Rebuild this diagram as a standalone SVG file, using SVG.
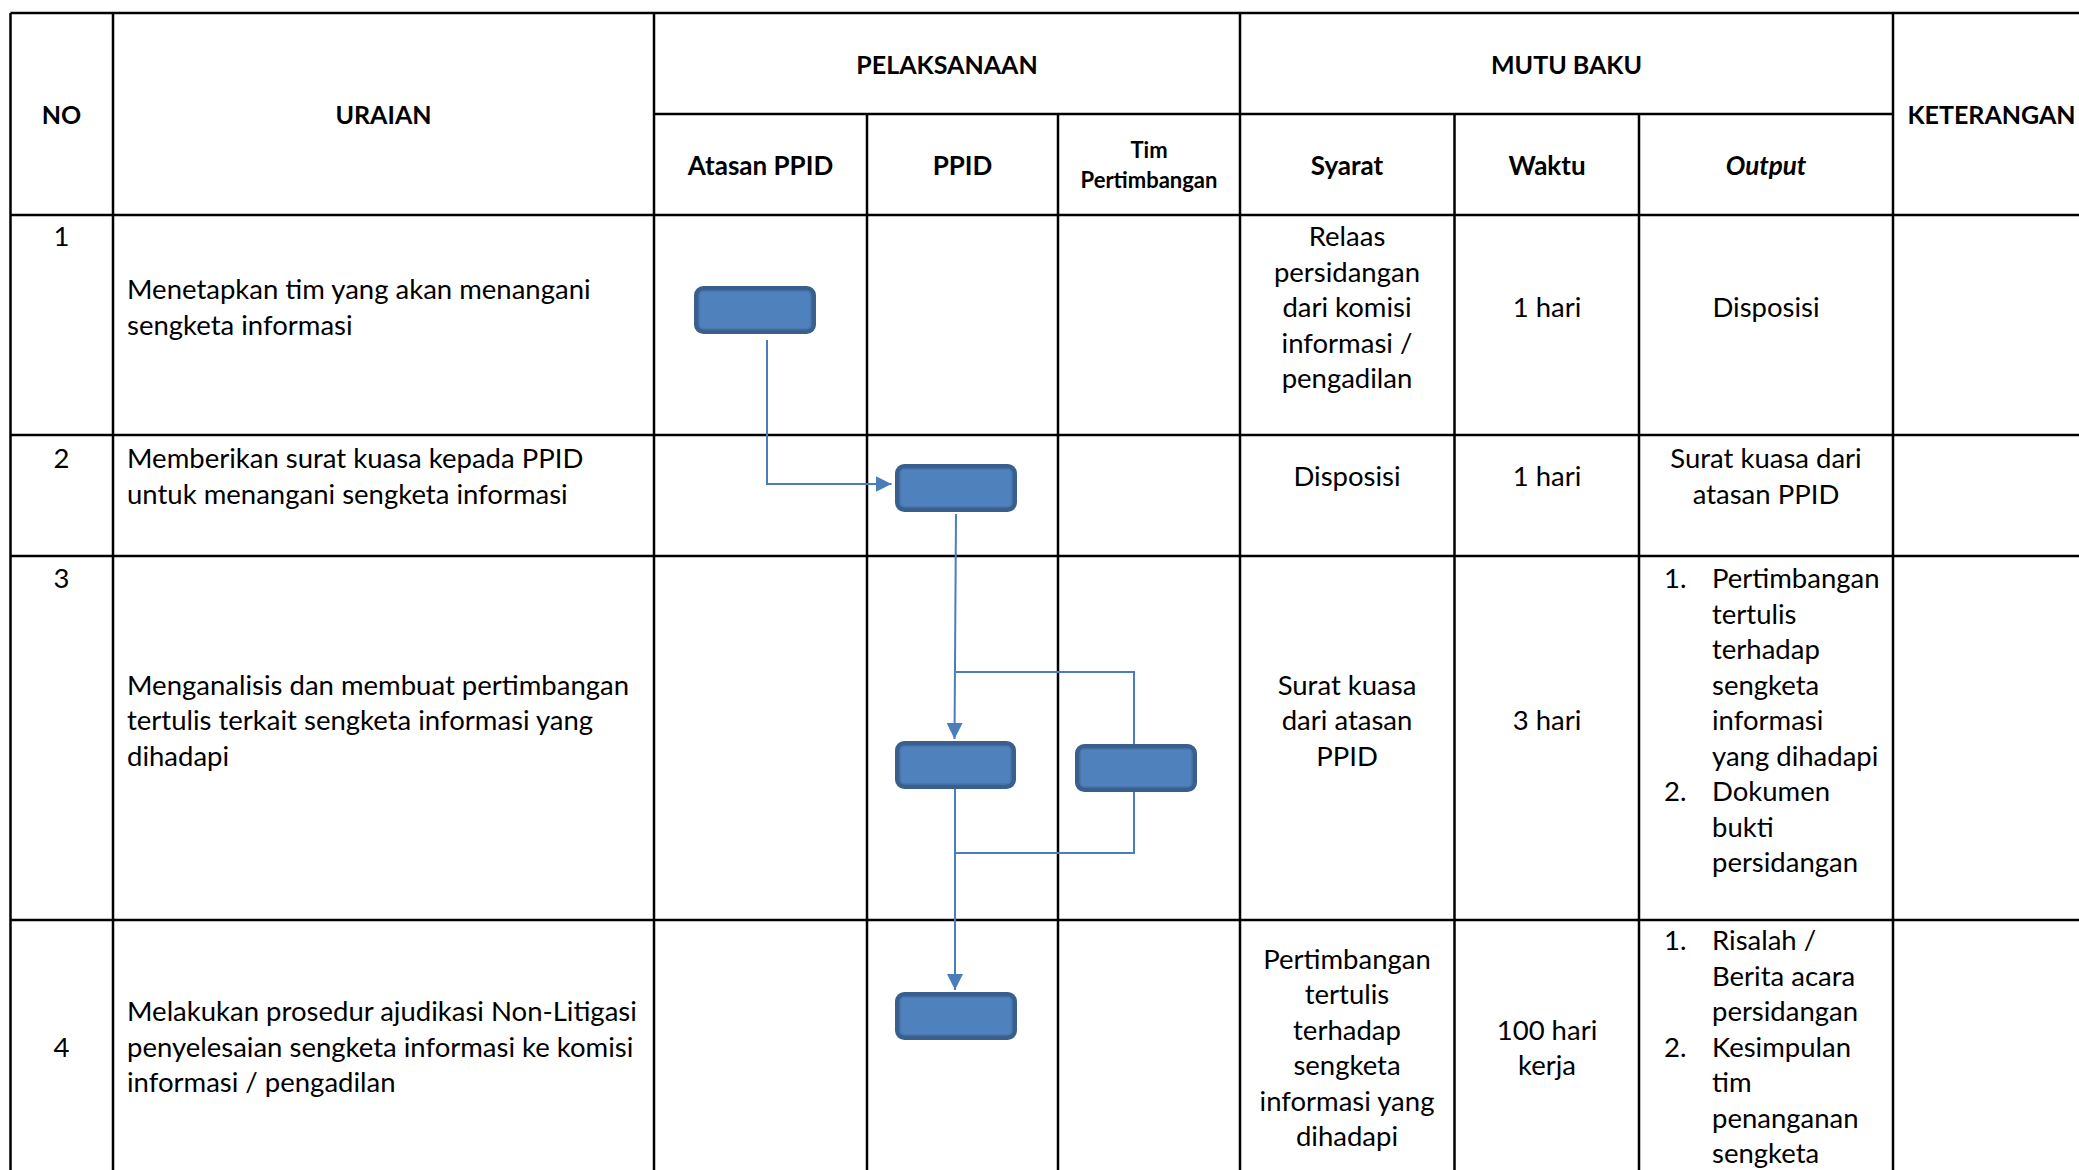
<svg xmlns="http://www.w3.org/2000/svg" width="2079" height="1170" viewBox="0 0 2079 1170">
<defs>
<style>
.g{stroke:#000;stroke-width:2.5;fill:none}
.t{font-family:Lato,"Liberation Sans",sans-serif;font-size:27.5px;fill:#000}
.c{text-anchor:middle}
.h{font-family:Lato,"Liberation Sans",sans-serif;font-size:25px;font-weight:bold;fill:#000;text-anchor:middle}
.h2{font-size:26px}
.hs{font-size:22px}
.box{fill:#4F81BD;stroke:#3A5F8D;stroke-width:4.5}
.inner{fill:none;stroke:#4876AE;stroke-width:1.2}
.cn{fill:none;stroke:#4A7EBB;stroke-width:2}
</style>
<marker id="ah" markerUnits="userSpaceOnUse" markerWidth="16" markerHeight="16" refX="16" refY="8" orient="auto"><path d="M0,0L16,8L0,16z" fill="#4A7EBB"/></marker>
</defs>
<rect width="2079" height="1170" fill="#fff"/>
<g id="grid" class="g">
<path d="M10.5 13H2079M654 114H1893M10.5 215H2079M10.5 435H2079M10.5 556H2079M10.5 920H2079"/>
<path d="M10.5 13V1170M113 13V1170M654 13V1170M1240 13V1170M1893 13V1170M867 114V1170M1058 114V1170M1454.5 114V1170M1639 114V1170"/>
</g>
<g id="header">
<text class="h" x="61.5" y="124">NO</text>
<text class="h" x="383.5" y="124">URAIAN</text>
<text class="h" x="947" y="74">PELAKSANAAN</text>
<text class="h" x="1566.5" y="74">MUTU BAKU</text>
<text class="h" x="1991.5" y="124">KETERANGAN</text>
<text class="h h2" x="760.5" y="175">Atasan PPID</text>
<text class="h h2" x="962.5" y="175">PPID</text>
<text class="h hs" x="1149" y="157.5">Tim</text>
<text class="h hs" x="1149" y="187.5">Pertimbangan</text>
<text class="h h2" x="1347" y="175">Syarat</text>
<text class="h h2" x="1547" y="175">Waktu</text>
<text class="h h2" x="1766" y="175" font-style="italic">Output</text>
</g>
<g id="row1" class="t">
<text class="c" x="61.5" y="246">1</text>
<text x="127" y="299">Menetapkan tim yang akan menangani</text>
<text x="127" y="334.5">sengketa informasi</text>
<text class="c" x="1347" y="246">Relaas</text>
<text class="c" x="1347" y="281.5">persidangan</text>
<text class="c" x="1347" y="317">dari komisi</text>
<text class="c" x="1347" y="352.5">informasi /</text>
<text class="c" x="1347" y="388">pengadilan</text>
<text class="c" x="1547" y="317">1 hari</text>
<text class="c" x="1766" y="317">Disposisi</text>
</g>
<g id="row2" class="t">
<text class="c" x="61.5" y="468">2</text>
<text x="127" y="468">Memberikan surat kuasa kepada PPID</text>
<text x="127" y="503.5">untuk menangani sengketa informasi</text>
<text class="c" x="1347" y="486">Disposisi</text>
<text class="c" x="1547" y="486">1 hari</text>
<text class="c" x="1766" y="468">Surat kuasa dari</text>
<text class="c" x="1766" y="503.5">atasan PPID</text>
</g>
<g id="row3" class="t">
<text class="c" x="61.5" y="588">3</text>
<text x="127" y="694.5">Menganalisis dan membuat pertimbangan</text>
<text x="127" y="730">tertulis terkait sengketa informasi yang</text>
<text x="127" y="765.5">dihadapi</text>
<text class="c" x="1347" y="694.5">Surat kuasa</text>
<text class="c" x="1347" y="730">dari atasan</text>
<text class="c" x="1347" y="765.5">PPID</text>
<text class="c" x="1547" y="730">3 hari</text>
<text x="1664" y="588">1.</text>
<text x="1712" y="588">Pertimbangan</text>
<text x="1712" y="623.5">tertulis</text>
<text x="1712" y="659">terhadap</text>
<text x="1712" y="694.5">sengketa</text>
<text x="1712" y="730">informasi</text>
<text x="1712" y="765.5">yang dihadapi</text>
<text x="1664" y="801">2.</text>
<text x="1712" y="801">Dokumen</text>
<text x="1712" y="836.5">bukti</text>
<text x="1712" y="872">persidangan</text>
</g>
<g id="row4" class="t">
<text class="c" x="61.5" y="1056.5">4</text>
<text x="127" y="1021">Melakukan prosedur ajudikasi Non-Litigasi</text>
<text x="127" y="1056.5">penyelesaian sengketa informasi ke komisi</text>
<text x="127" y="1092">informasi / pengadilan</text>
<text class="c" x="1347" y="968.5">Pertimbangan</text>
<text class="c" x="1347" y="1004">tertulis</text>
<text class="c" x="1347" y="1039.5">terhadap</text>
<text class="c" x="1347" y="1075">sengketa</text>
<text class="c" x="1347" y="1110.5">informasi yang</text>
<text class="c" x="1347" y="1146">dihadapi</text>
<text class="c" x="1547" y="1039.5">100 hari</text>
<text class="c" x="1547" y="1075">kerja</text>
<text x="1664" y="950">1.</text>
<text x="1712" y="950">Risalah /</text>
<text x="1712" y="985.5">Berita acara</text>
<text x="1712" y="1021">persidangan</text>
<text x="1664" y="1056.5">2.</text>
<text x="1712" y="1056.5">Kesimpulan</text>
<text x="1712" y="1092">tim</text>
<text x="1712" y="1127.5">penanganan</text>
<text x="1712" y="1163">sengketa</text>
</g>
<g id="connectors" class="cn">
<path d="M767 340V484H891.5" marker-end="url(#ah)"/>
<path d="M956 514L954.5 739" marker-end="url(#ah)"/>
<path d="M956 672H1134V744"/>
<path d="M955 789V990" marker-end="url(#ah)"/>
<path d="M1134 792V853H956"/>
</g>
<g id="node1"><rect class="box" x="696.25" y="288.25" width="117.5" height="43.5" rx="7"/><rect class="inner" x="699.5" y="291.5" width="111" height="37" rx="4"/></g>
<g id="node2"><rect class="box" x="897.25" y="466.25" width="117.5" height="43.5" rx="7"/><rect class="inner" x="900.5" y="469.5" width="111" height="37" rx="4"/></g>
<g id="node3"><rect class="box" x="897.25" y="743.25" width="116.5" height="43.5" rx="7"/><rect class="inner" x="900.5" y="746.5" width="110" height="37" rx="4"/></g>
<g id="node4"><rect class="box" x="1077.25" y="746.25" width="117.5" height="43.5" rx="7"/><rect class="inner" x="1080.5" y="749.5" width="111" height="37" rx="4"/></g>
<g id="node5"><rect class="box" x="897.25" y="994.25" width="117.5" height="43.5" rx="7"/><rect class="inner" x="900.5" y="997.5" width="111" height="37" rx="4"/></g>
</svg>
